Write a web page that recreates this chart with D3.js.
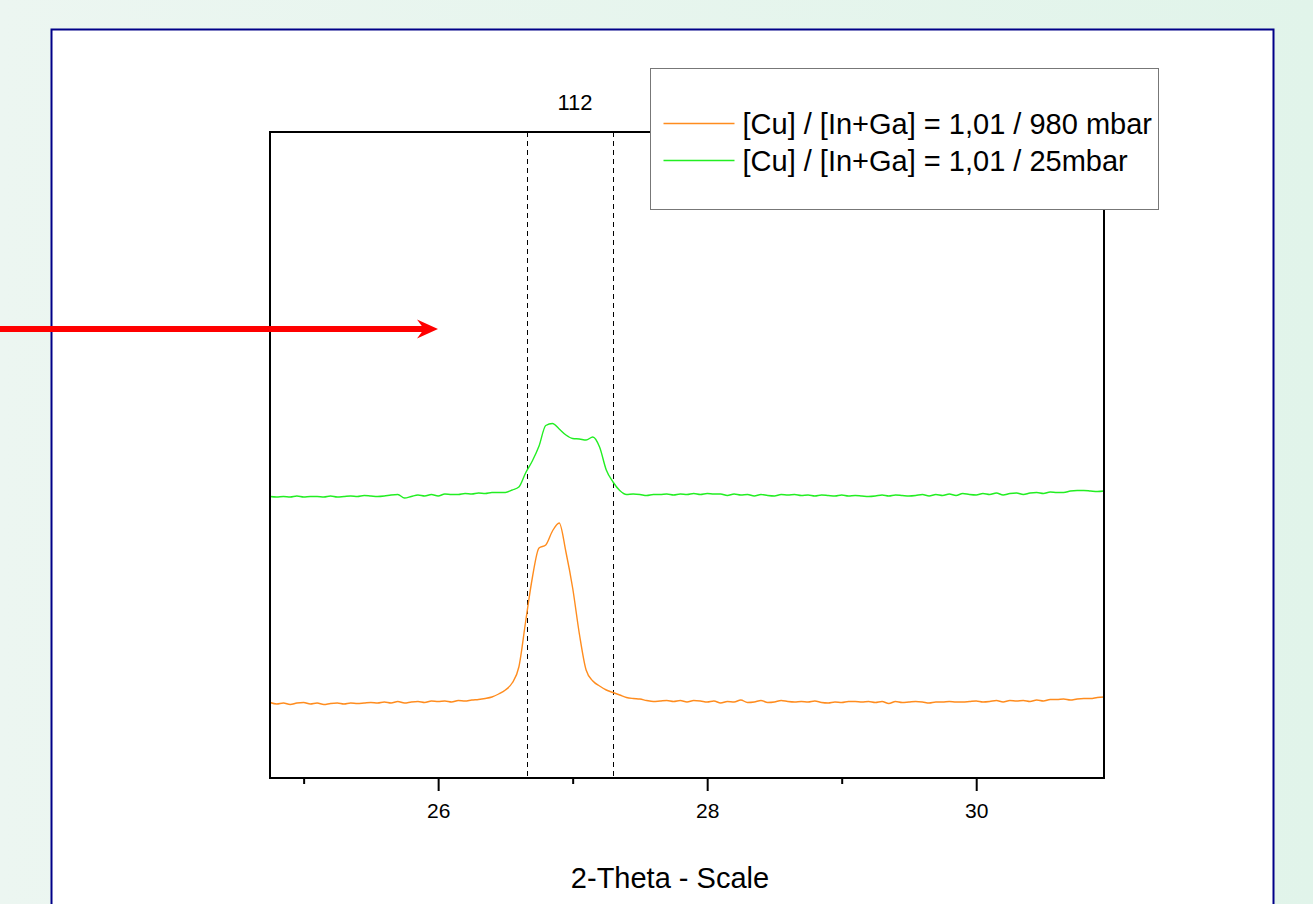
<!DOCTYPE html>
<html lang="en">
<head>
<meta charset="utf-8">
<title>XRD 112 reflex</title>
<script src="https://d3js.org/d3.v7.min.js"></script>
<style>
  body { margin: 0; overflow: hidden; }
  text { font-family: Arial, "Liberation Sans", sans-serif; fill: #000; }
</style>
</head>
<body>
<svg id="chart"></svg>
<script>
// 1) data -- scan grid + intensities (counts)
const thetaStart = 24.75, thetaStep = 0.05;

const orange980 = [
  151,148,150,147,150,151,148,150,147,149,
  150,148,150,149,150,151,150,152,150,153,
  150,152,153,151,154,153,154,152,155,154,
  156,157,159,162,168,176,190,222,312,400,
  460,466,494,510,452,380,288,216,194,184,
  176,171,166,161,159,158,155,153,154,
  155,153,155,152,155,154,152,154,150,153,
  152,156,151,152,155,151,152,155,153,152,
  153,152,154,151,150,152,151,153,153,152,
  153,151,153,149,153,151,152,153,152,150,
  152,152,153,152,152,153,154,152,153,155,
  152,155,154,155,153,156,154,157,157,158,
  156,158,159,159,161,162
];

const green25 = [
  563,562,563,562,564,562,563,563,562,564,
  562,563,564,563,565,564,563,564,566,567,
  560,563,566,564,567,564,568,567,567,569,
  568,570,569,571,571,571,576,582,610,634,
  664,705,709,698,686,679,678,676,682,662,
  616,592,575,567,568,567,565,567,567,
  568,566,568,567,569,567,569,568,568,565,
  568,566,567,564,567,565,564,567,566,567,
  565,566,564,566,565,564,566,564,565,564,
  563,564,566,564,566,565,564,565,567,564,
  567,565,568,565,569,567,566,569,567,570,
  566,569,570,567,570,571,569,572,571,571,
  574,575,575,574,573,574
];

const seriesNames = ["[Cu] / [In+Ga] = 1,01 / 980 mbar", "[Cu] / [In+Ga] = 1,01 / 25mbar"];
const seriesColors = ["#ff8c1e", "#22ee22"];
const majorTicks = [26, 28, 30];
const minorTicks = [25, 27, 29];
const markerLines = [26.66, 27.30];
const peakLabel = "112";
const xTitle = "2-Theta - Scale";

// 2) sizes
const W = 1313, H = 904;
const plot = {left: 270, top: 132, right: 1104, bottom: 778};

const svg = d3.select("#chart").attr("width", W).attr("height", H);

// background gradient + white panel
const defs = svg.append("defs");
const grad = defs.append("linearGradient").attr("id", "bg").attr("x1", 0).attr("x2", 1).attr("y1", 0).attr("y2", 0);
grad.append("stop").attr("offset", "0%").attr("stop-color", "#ecf6f1");
grad.append("stop").attr("offset", "100%").attr("stop-color", "#e1f4ea");
svg.append("rect").attr("width", W).attr("height", H).attr("fill", "url(#bg)");
svg.append("rect")
   .attr("x", 51.5).attr("y", 29.5)
   .attr("width", 1222).attr("height", 900)
   .attr("fill", "#fff").attr("stroke", "#000088").attr("stroke-width", 2);

// 3) scales
const x = d3.scaleLinear().domain([24.75, 30.95]).range([plot.left, plot.right]);
const y = d3.scaleLinear().domain([0, 1292]).range([plot.bottom, plot.top]);

// dashed reference lines (snapped to pixel centres so they stay crisp)
svg.selectAll(".marker")
   .data(markerLines)
   .enter().append("line")
   .attr("x1", d => Math.round(x(d)) + 0.5).attr("x2", d => Math.round(x(d)) + 0.5)
   .attr("y1", plot.top).attr("y2", plot.bottom)
   .attr("stroke", "#000").attr("stroke-width", 1)
   .attr("stroke-dasharray", "5,4");

// 4) traces
const line = d3.line()
   .x((d, i) => x(thetaStart + i * thetaStep))
   .y(d => y(d))
   .curve(d3.curveMonotoneX);

[orange980, green25].forEach(function(s, k) {
  svg.append("path")
     .datum(s)
     .attr("d", line)
     .attr("fill", "none")
     .attr("stroke", seriesColors[k])
     .attr("stroke-width", 1.4);
});

// 5) frame + axes
svg.append("rect")
   .attr("x", plot.left).attr("y", plot.top)
   .attr("width", plot.right - plot.left).attr("height", plot.bottom - plot.top)
   .attr("fill", "none").attr("stroke", "#000").attr("stroke-width", 2);

let xAxis = d3.axisBottom(x).tickValues(majorTicks).tickFormat(d3.format("d"))
   .tickSize(13).tickSizeOuter(0).tickPadding(12);
let gx = svg.append("g")
   .attr("transform", "translate(0," + plot.bottom + ")")
   .call(xAxis);
gx.select(".domain").remove();
gx.selectAll(".tick line").attr("stroke-width", 2);
gx.selectAll(".tick text").attr("font-size", 21).style("font-family", "Arial, 'Liberation Sans', sans-serif");

let gMinor = svg.append("g")
   .attr("transform", "translate(0," + plot.bottom + ")")
   .call(d3.axisBottom(x).tickValues(minorTicks).tickSize(6).tickFormat(""));
gMinor.select(".domain").remove();
gMinor.selectAll(".tick line").attr("stroke-width", 2);

svg.append("text")
   .attr("x", 670).attr("y", 888)
   .attr("text-anchor", "middle")
   .attr("font-size", 29)
   .text(xTitle);

svg.append("text")
   .attr("x", 575).attr("y", 110)
   .attr("text-anchor", "middle")
   .attr("font-size", 22)
   .text(peakLabel);

// 6) legend
const lg = svg.append("g").attr("transform", "translate(650.5,68.5)");
lg.append("rect")
  .attr("width", 508).attr("height", 141)
  .attr("fill", "#fff").attr("stroke", "#777").attr("stroke-width", 1);
const rows = lg.selectAll(".row")
  .data(seriesNames)
  .enter().append("g")
  .attr("transform", (d, i) => "translate(0," + (55 + i * 37) + ")");
rows.append("line")
  .attr("x1", 13).attr("x2", 84)
  .attr("stroke", (d, i) => seriesColors[i]).attr("stroke-width", 1.5);
rows.append("text")
  .attr("x", 92).attr("y", 10)
  .attr("font-size", 29)
  .text(d => d);

// 7) red arrow annotation
svg.append("line")
   .attr("x1", 0).attr("x2", 428)
   .attr("y1", 329).attr("y2", 329)
   .attr("stroke", "#ff0000").attr("stroke-width", 6);
svg.append("path")
   .attr("d", "M438,329 L417,319.5 L424,329 L417,338.5 Z")
   .attr("fill", "#ff0000");
</script>
</body>
</html>
